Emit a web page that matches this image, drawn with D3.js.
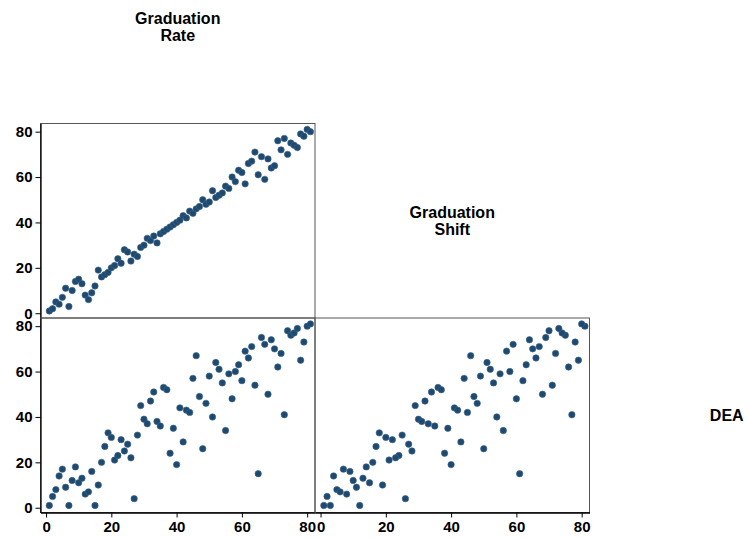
<!DOCTYPE html>
<html>
<head>
<meta charset="utf-8">
<script src="https://cdn.jsdelivr.net/npm/d3@7"></script>
<style>
  body { margin: 0; background: #fff; }
  text { font-family: "Liberation Sans", Arial, sans-serif; fill: #000; }
  .domain { stroke: #000; stroke-width: 1.3; }
  .tick line { stroke: #000; }
</style>
</head>
<body>
<svg width="750" height="538"></svg>
<script>
// variables, in matrix order
var varNames = [["Graduation", "Rate"], ["Graduation", "Shift"], ["DEA"]];
var tickValues = [0, 20, 40, 60, 80];

var rate = [1, 2, 3, 4, 5, 6, 7, 8, 9, 10, 11, 12, 13, 14, 15, 16, 17, 18, 19, 20,
  21, 22, 23, 24, 25, 26, 27, 28, 29, 30, 31, 32, 33, 34, 35, 36, 37, 38, 39, 40,
  41, 42, 43, 44, 45, 46, 47, 48, 49, 50, 51, 52, 53, 54, 55, 56, 57, 58, 59, 60,
  61, 62, 63, 64, 65, 66, 67, 68, 69, 70, 71, 72, 73, 74, 75, 76, 77, 78, 79, 80, 81];
var shift = [1, 2, 5, 4, 7, 11, 3, 10, 14, 15, 13, 8, 6, 9, 12, 19, 16, 17, 18, 20,
  21, 24, 22, 28, 27, 23, 26, 25, 29, 30, 33, 32, 34, 31, 35, 36, 37, 38, 39, 40,
  41, 43, 42, 45, 44, 46, 47, 50, 48, 49, 54, 51, 52, 53, 56, 55, 60, 58, 63, 62,
  57, 66, 67, 71, 61, 69, 59, 68, 64, 65, 76, 72, 77, 70, 75, 74, 73, 79, 78, 81, 80];
var dea = [1, 5, 8, 14, 17, 9, 1, 12, 18, 11, 13, 6, 7, 16, 1, 10, 20, 27, 33, 31,
  21, 23, 30, 25, 28, 22, 4, 32, 45, 39, 37, 47, 51, 38, 36, 53, 52, 24, 35, 19,
  44, 29, 43, 42, 57, 67, 49, 26, 46, 58, 40, 64, 61, 55, 34, 59, 48, 60, 63, 56,
  69, 66, 71, 54, 15, 75, 72, 50, 74, 70, 62, 68, 41, 78, 76, 77, 79, 65, 73, 80, 81];

var series = [rate, shift, dea];

//----------------------------------------------------------------------------
// layout
//----------------------------------------------------------------------------
var svg = d3.select("svg");
var cellW = 274.5, cellH = 194.5;
var left0 = 40.5, top0 = -71;

function colX(c) { return left0 + c * cellW; }
function rowY(r) { return top0 + r * cellH; }

var domain = [-1.7, 82.4];
var domainY = [-2.1, 83.6];

// diagonal labels
varNames.forEach(function(lines, i) {
  var cx = colX(i) + cellW / 2;
  var cy = rowY(i) + cellH / 2;
  var t = svg.append("text")
      .attr("text-anchor", "middle")
      .attr("font-size", 16)
      .attr("font-weight", "bold");
  var n = lines.length;
  lines.forEach(function(s, k) {
    t.append("tspan")
        .attr("x", cx)
        .attr("y", cy + 6 + (k - (n - 1) / 2) * 17)
        .text(s);
  });
});

// lower panels
for (var r = 1; r < 3; r++) {
  for (var c = 0; c < r; c++) {
    drawCell(r, c);
  }
}

function drawCell(r, c) {
  var x0 = colX(c), y0 = rowY(r);
  var x = d3.scaleLinear().domain(domain).range([x0, x0 + cellW]);
  var y = d3.scaleLinear().domain(domainY).range([y0 + cellH, y0]);
  var g = svg.append("g");

  g.append("rect")
      .attr("x", x0).attr("y", y0)
      .attr("width", cellW).attr("height", cellH)
      .attr("fill", "none")
      .attr("stroke", "#555")
      .attr("stroke-width", 1);

  var xs = series[c], ys = series[r];
  g.selectAll("circle")
      .data(d3.range(xs.length))
      .enter().append("circle")
      .attr("cx", function(i) { return x(xs[i]); })
      .attr("cy", function(i) { return y(ys[i]); })
      .attr("r", 3.2)
      .attr("fill", "#1f4a70")
      .attr("stroke", "#3b6184")
      .attr("stroke-width", 0.6);

  if (c === 0) {
    var ay = g.append("g")
        .attr("transform", "translate(" + x0 + ",0)")
        .call(d3.axisLeft(y).tickValues(tickValues).tickSize(5).tickPadding(3).tickSizeOuter(0));
    ay.selectAll("text").attr("font-size", 15).attr("font-weight", "bold")
        .attr("font-family", "Liberation Sans, Arial, sans-serif").attr("fill", "#000");
  }
  if (r === 2) {
    var ax = g.append("g")
        .attr("transform", "translate(0," + (y0 + cellH) + ")")
        .call(d3.axisBottom(x).tickValues(tickValues).tickSize(5).tickPadding(4).tickSizeOuter(0));
    ax.selectAll("text").attr("font-size", 15).attr("font-weight", "bold")
        .attr("font-family", "Liberation Sans, Arial, sans-serif").attr("fill", "#000");
  }
}
</script>
</body>
</html>
